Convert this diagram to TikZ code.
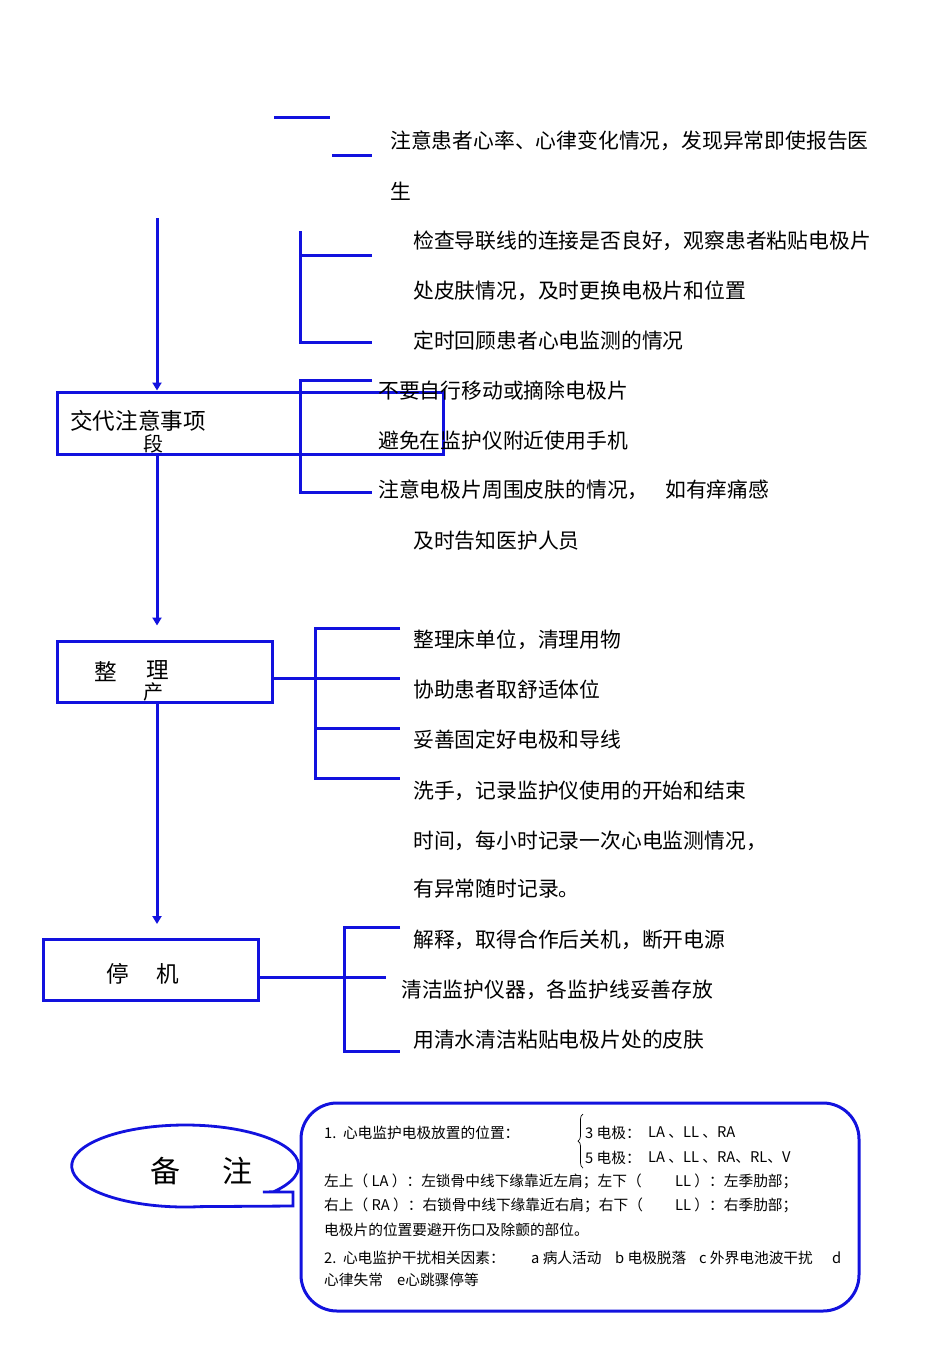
\documentclass[tikz,border=0pt]{standalone}
\usepackage{fontspec}
\setmainfont{Noto Sans CJK SC}
\usetikzlibrary{arrows.meta,decorations.pathreplacing}
\definecolor{lineblue}{RGB}{18,18,222}

\begin{document}
\begin{tikzpicture}[x=1pt, y=-1pt,
  every node/.style={inner sep=0pt, anchor=west, font=\fontsize{20.8}{24}\selectfont},
  blueline/.style={draw=lineblue, line width=3pt},
  flowarrow/.style={blueline, -{Triangle[width=9pt,length=8pt]}},
  stagebox/.style={blueline, rectangle, anchor=center},
  boxtext/.style={anchor=center, font=\fontsize{22.6}{24}\selectfont},
  notetext/.style={font=\fontsize{14.7}{17}\selectfont}]

\useasboundingbox (0,0) rectangle (950,1345);

% Stage Boxes
\node[stagebox, minimum width=386pt, minimum height=62pt] (box1) at (250,423) {};
\node[stagebox, minimum width=215pt, minimum height=61pt] (box2) at (164.5,671.5) {};
\node[stagebox, minimum width=215pt, minimum height=61pt] (box3) at (150.5,970) {};

% Box Labels
\node[boxtext, anchor=west] (l1) at (70,421) {交代注意事项};
\node[boxtext, font=\fontsize{20}{22}\selectfont] (l1b) at (153,444) {段};
\node[boxtext] (l2a) at (106,672) {整};
\node[boxtext] (l2b) at (158,670) {理};
\node[boxtext, font=\fontsize{20}{22}\selectfont] (l2c) at (153,692) {产};
\node[boxtext] (l3a) at (118,974) {停};
\node[boxtext] (l3b) at (168,974) {机};

% Flow Arrows
\coordinate (top) at (157,218);
\draw[flowarrow] (top) -- (top |- box1.north);
\draw[flowarrow, shorten >=14pt] (top |- box1.south) -- (top |- box2.north);
\draw[flowarrow, shorten >=14pt] (top |- box2.south) -- (top |- box3.north);

% First Stage Lines
\draw[blueline] (274,117) -- (330,117);
\draw[blueline] (332,155) -- (372,155);
\draw[blueline] (372,255) -- (300,255) (300,231) -- (300,342) -- (372,342);
\draw[blueline] (372,380) -- (300,380) -- (300,492) -- (372,492);

% First Stage Text
\node (s1) at (390,141) {注意患者心率、心律变化情况，发现异常即使报告医};
\node (s1b) at (390,191) {生};
\node (s2) at (413,241) {检查导联线的连接是否良好，观察患者粘贴电极片};
\node (s2b) at (413,291) {处皮肤情况，及时更换电极片和位置};
\node (s3) at (413,341) {定时回顾患者心电监测的情况};
\node (s4) at (378,391) {不要自行移动或摘除电极片};
\node (s5) at (378,441) {避免在监护仪附近使用手机};
\node (s6) at (378,490) {注意电极片周围皮肤的情况，};
\node (s6b) at (665,490) {如有痒痛感};
\node (s6c) at (413,541) {及时告知医护人员};

% Second Stage Lines
\coordinate (b2) at (315,678);
\draw[blueline] (box2.east |- b2) -- (400,678);
\draw[blueline] (400,628) -- (315,628) -- (315,778) -- (400,778);
\draw[blueline] (315,728) -- (400,728);

% Second Stage Text
\node (t1) at (413,640) {整理床单位，清理用物};
\node (t2) at (413,690) {协助患者取舒适体位};
\node (t3) at (413,740) {妥善固定好电极和导线};
\node (t4) at (413,791) {洗手，记录监护仪使用的开始和结束};
\node (t4b) at (413,841) {时间，每小时记录一次心电监测情况，};
\node (t4c) at (413,889) {有异常随时记录。};

% Third Stage Lines
\coordinate (b3) at (386,977);
\draw[blueline] (box3.east |- b3) -- (b3);
\draw[blueline] (400,927) -- (344,927) -- (344,1051) -- (400,1051);

% Third Stage Text
\node (u1) at (413,940) {解释，取得合作后关机，断开电源};
\node (u2) at (401,990) {清洁监护仪器，各监护线妥善存放};
\node (u3) at (413,1040) {用清水清洁粘贴电极片处的皮肤};

% Note Callout
\draw[blueline, line width=2.8pt, fill=white] (263,1192) -- (293,1192) -- (293,1206) -- (201,1206.6)
  arc[start angle=82, end angle=399, x radius=113.5, y radius=41] -- cycle;
\node[boxtext, font=\fontsize{30}{32}\selectfont] (c1) at (165,1171) {备};
\node[boxtext, font=\fontsize{30}{32}\selectfont] (c2) at (237,1171) {注};

% Note Box
\draw[blueline, rounded corners=36pt] (301,1103) rectangle (859,1311);
\node[notetext] (m1) at (324,1133) {1.\ \ 心电监护电极放置的位置：};
\draw[decorate, decoration={brace, amplitude=5pt}, line width=0.7pt] (583,1168) -- (583,1114);
\node[notetext] (m2) at (585,1133) {3 电极：};
\node[notetext] (m2b) at (648,1133) {LA 、LL 、RA};
\node[notetext] (m3) at (585,1158) {5 电极：};
\node[notetext] (m3b) at (648,1158) {LA 、LL 、RA、RL、V};
\node[notetext] (m4) at (324,1181) {左上（ LA ）：左锁骨中线下缘靠近左肩；左下（};
\node[notetext] (m4b) at (675,1181) {LL ）：左季肋部；};
\node[notetext] (m5) at (324,1205) {右上（ RA ）：右锁骨中线下缘靠近右肩；右下（};
\node[notetext] (m5b) at (675,1205) {LL ）：右季肋部；};
\node[notetext] (m6) at (324,1230) {电极片的位置要避开伤口及除颤的部位。};
\node[notetext] (m7) at (324,1258) {2.\ \ 心电监护干扰相关因素：};
\node[notetext] (m7a) at (531,1258) {a 病人活动};
\node[notetext] (m7b) at (615,1258) {b 电极脱落};
\node[notetext] (m7c) at (699,1258) {c 外界电池波干扰};
\node[notetext] (m7d) at (832,1258) {d};
\node[notetext] (m8) at (324,1280) {心律失常};
\node[notetext] (m8b) at (397,1280) {e心跳骤停等};

\end{tikzpicture}
\end{document}
